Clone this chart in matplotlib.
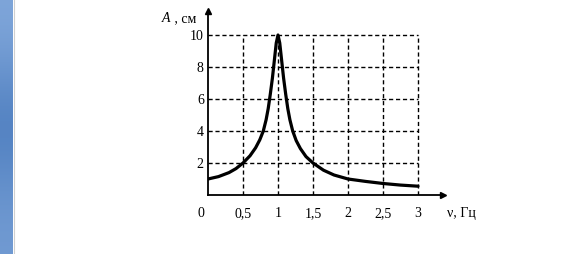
import numpy as np
import matplotlib
matplotlib.use('Agg')
import matplotlib.pyplot as plt
from matplotlib.colors import LinearSegmentedColormap

# resonance curve
nu = [0, 0.15, 0.3, 0.4, 0.5, 0.6, 0.68, 0.74, 0.79, 0.83, 0.86, 0.89, 0.92, 0.95, 0.975, 1.0,
      1.025, 1.05, 1.08, 1.11, 1.14, 1.17, 1.21, 1.26, 1.32, 1.4, 1.5, 1.65, 1.8, 2.0,
      2.25, 2.5, 2.75, 3.0]
amp = [1.0, 1.15, 1.4, 1.65, 2.0, 2.45, 2.95, 3.45, 4.0, 4.7, 5.4, 6.3, 7.3, 8.5, 9.5, 10.0,
       9.5, 8.5, 7.3, 6.3, 5.4, 4.7, 4.0, 3.4, 2.9, 2.4, 2.0, 1.55, 1.25, 1.0,
       0.85, 0.72, 0.62, 0.55]

x_ticks = [0.5, 1, 1.5, 2, 2.5, 3]
x_labels = ['0,5', '1', '1,5', '2', '2,5', '3']
y_ticks = [2, 4, 6, 8, 10]
y_labels = ['2', '4', '6', '8', '10']

serif = 'Liberation Serif'

fig = plt.figure(figsize=(5.76, 2.54), dpi=100)

# синяя полоса слева
bar = fig.add_axes([0, 0, 13/576, 1])
grad = np.array([[0.0], [0.5], [1.0], [0.6], [0.3]])
cm = LinearSegmentedColormap.from_list('b', ['#7ea5d9', '#4f7fc0'])
bar.imshow(grad, aspect='auto', cmap=cm, interpolation='bicubic')
bar.axis('off')
fig.add_artist(plt.Line2D([14/576, 14/576], [0, 1], color='#d0d0d0', lw=0.8))

ax = fig.add_axes([208/576, 59/254, 3.35*70/576, 11.5*16/254])
ax.set_xlim(0, 3.35)
ax.set_ylim(0, 11.5)

# пунктирная сетка
ax.vlines(x_ticks, 0, 10, colors='black', linestyles=(0, (3, 2)), lw=1)
ax.hlines(y_ticks, 0, 3, colors='black', linestyles=(0, (3, 2)), lw=1)

ax.plot(nu, amp, color='black', lw=2.3, solid_capstyle='round', solid_joinstyle='round')

for s in ['top', 'right']:
    ax.spines[s].set_visible(False)
ax.spines['left'].set_linewidth(1.3)
ax.spines['bottom'].set_linewidth(1.3)
# стрелки осей
ax.plot(1, 0, '>', color='black', ms=5, transform=ax.transAxes, clip_on=False)
ax.plot(0, 1, '^', color='black', ms=5, transform=ax.transAxes, clip_on=False)

ax.set_xticks(x_ticks)
ax.set_xticklabels(x_labels, family=serif, fontsize=10)
ax.set_yticks(y_ticks)
ax.set_yticklabels(y_labels, family=serif, fontsize=10)
ax.tick_params(length=0, pad=8.5, axis='x')
ax.tick_params(length=0, pad=3, axis='y')

ax.text(-0.1, -0.74, '0', family=serif, fontsize=10, ha='center', va='top')
ax.text(3.42, -0.74, 'ν, Гц', family=serif, fontsize=10, ha='left', va='top')
ax.text(-0.54, 11.0, 'A', family=serif, style='italic', fontsize=10,
        ha='right', va='center')
ax.text(-0.53, 11.0, ' , см', family=serif, fontsize=10, ha='left', va='center')

fig.savefig('out.png', dpi=100)
